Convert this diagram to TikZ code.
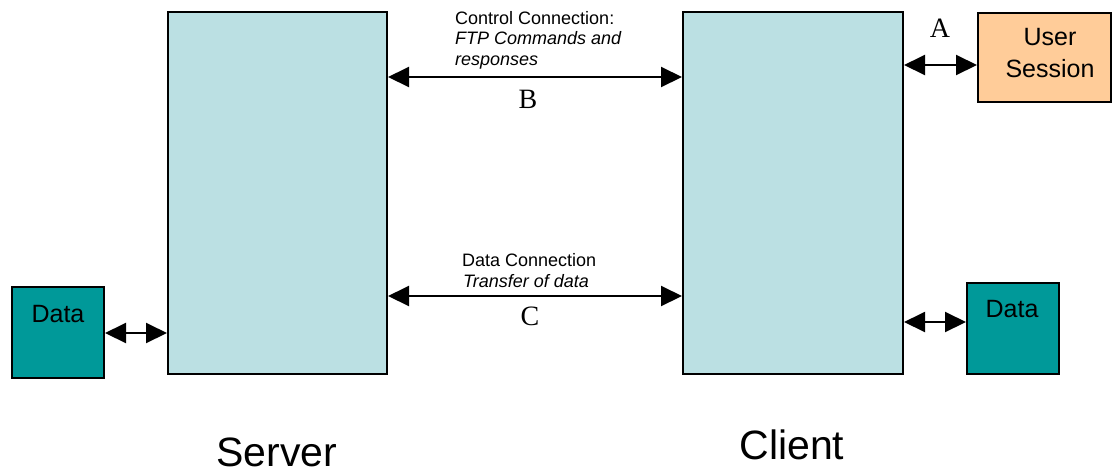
\documentclass[tikz,border=0pt]{standalone}
\usepackage{fontspec}
\setmainfont{Liberation Sans}
\newfontfamily\tnr{Liberation Serif}
\usetikzlibrary{arrows.meta}
\definecolor{boxfill}{RGB}{187,224,227}
\definecolor{sessfill}{RGB}{255,204,153}
\definecolor{datafill}{RGB}{0,153,153}
\begin{document}
\begin{tikzpicture}[x=1pt,y=-1pt,
  blk/.style={draw=black, line width=2pt, inner sep=0pt, rectangle},
  host/.style={blk, fill=boxfill, minimum width=219pt, minimum height=362pt},
  store/.style={blk, fill=datafill, minimum width=92pt, minimum height=91pt},
  sess/.style={blk, fill=sessfill, minimum width=133pt, minimum height=89pt},
  link/.style={line width=2pt, {Triangle[length=21pt,width=20pt]}-{Triangle[length=21pt,width=20pt]}},
  small/.style={inner sep=0pt, font=\fontsize{18}{20.5}\selectfont, align=left},
  letter/.style={inner sep=0pt, font=\tnr\fontsize{28}{28}\selectfont},
  big/.style={inner sep=0pt, font=\fontsize{41}{41}\selectfont},
  mid/.style={inner sep=0pt, font=\fontsize{25}{32}\selectfont, align=center}
]
\useasboundingbox (0,0) rectangle (1113,475);
\node[host] (server) at (277.5,193) {};
\node[host, minimum width=220pt] (client) at (793,193) {};
\node[sess] (sess) at (1044.5,57.5) {};
\node[store] (dl) at (58,332.5) {};
\node[store] (dr) at (1013,328.5) {};
\node[mid, anchor=base] (sesst) at (1050,77) {User\\Session};
\node[mid, anchor=base] (dlt) at (58,322) {Data};
\node[mid, anchor=base] (drt) at (1012,317) {Data};

\draw[link] (server.east |- 0,77) -- (client.west |- 0,77);
\draw[link] (server.east |- 0,296) -- (client.west |- 0,296);
\draw[link] (client.east |- 0,65) -- (sess.west |- 0,65);
\draw[link] (dl.east |- 0,333) -- (server.west |- 0,333);
\draw[link] (client.east |- 0,322) -- (dr.west |- 0,322);

\node[small, anchor=base west] (ctl) at (455,65) {Control Connection:\\\textit{FTP Commands and}\\\textit{responses}};
\node[small, anchor=base west] (dc) at (462,287) {Data Connection\\\hspace{1pt}\textit{Transfer of data}};
\node[letter, anchor=base] (lb) at (528,108) {B};
\node[letter, anchor=base] (lc) at (530,325) {C};
\node[letter, anchor=base] (la) at (940,37) {A};
\node[big, anchor=base] (srv) at (277,466) {Server};
\node[big, anchor=base] (cli) at (792,459) {Client};
\end{tikzpicture}
\end{document}
